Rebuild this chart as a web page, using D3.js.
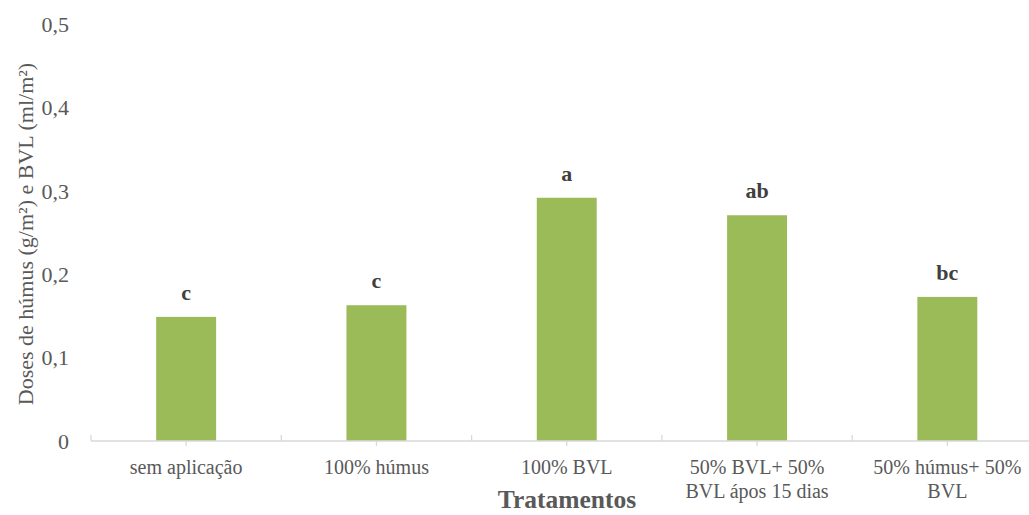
<!DOCTYPE html>
<html>
<head>
<meta charset="utf-8">
<script src="https://cdn.jsdelivr.net/npm/d3@7"></script>
<style>
  body{margin:0;background:#fff;}
  svg text{font-family:"Liberation Serif","Times New Roman",serif;}
</style>
</head>
<body>
<div id="chart"></div>
<script>
const categories=[["sem aplicação"],["100% húmus"],["100% BVL"],["50% BVL+ 50%","BVL ápos 15 dias"],["50% húmus+ 50%","BVL"]];
const values=[0.149,0.163,0.292,0.271,0.173];
const letters=["c","c","a","ab","bc"];
const yTicks=[0,0.1,0.2,0.3,0.4,0.5];

const w=1029, h=515;
const plotLeft=91, plotRight=1042.5, plotTop=24.5, plotBottom=441;
const serif="'Liberation Serif','Times New Roman',serif";

const svg=d3.select("#chart").append("svg").attr("width",w).attr("height",h);

const keys=categories.map(c=>c.join(" "));
const x=d3.scaleBand().domain(keys).range([plotLeft,plotRight]).paddingInner(0.685).paddingOuter(0.3425);
const y=d3.scaleLinear().domain([0,0.5]).range([plotBottom,plotTop]);

// bars
svg.selectAll("rect.bar")
    .data(values)
    .enter()
    .append("rect")
    .attr("class","bar")
    .attr("x",(d,i)=>x(keys[i]))
    .attr("y",d=>y(d))
    .attr("width",x.bandwidth())
    .attr("height",d=>y(0)-y(d))
    .attr("fill","#9bbb59");

// significance letters
svg.selectAll("text.letter")
    .data(values)
    .enter()
    .append("text")
    .attr("class","letter")
    .text((d,i)=>letters[i])
    .attr("x",(d,i)=>x(keys[i])+x.bandwidth()/2)
    .attr("y",d=>y(d)-17)
    .attr("text-anchor","middle")
    .style("font-family",serif)
    .style("font-size","22px")
    .style("font-weight","bold")
    .attr("fill","#404040");

// x axis
const gap=(x.step()-x.bandwidth())/2;
svg.append("line")
    .attr("x1",plotLeft).attr("x2",plotRight)
    .attr("y1",plotBottom).attr("y2",plotBottom)
    .attr("stroke","#d9d9d9").attr("stroke-width",1.3);
const bounds=keys.map(k=>x(k)-gap).concat([plotRight]);
svg.selectAll("line.btick")
    .data(bounds)
    .enter()
    .append("line")
    .attr("class","btick")
    .attr("x1",d=>d).attr("x2",d=>d)
    .attr("y1",plotBottom-6).attr("y2",plotBottom)
    .attr("stroke","#d9d9d9").attr("stroke-width",1.3);
const xAxis=svg.append("g")
    .attr("transform",`translate(0,${plotBottom})`)
    .call(d3.axisBottom(x).tickSize(5).tickFormat(""));
xAxis.select(".domain").remove();
xAxis.selectAll(".tick line").attr("stroke","#d9d9d9").attr("stroke-width",1.3);

const labels=svg.append("g");
categories.forEach((c,i)=>{
  const cx=x(keys[i])+x.bandwidth()/2;
  const t=labels.append("text")
      .attr("x",cx)
      .attr("y",474)
      .attr("text-anchor","middle")
      .style("font-family",serif)
      .style("font-size","20px")
      .attr("fill","#595959");
  c.forEach((line,j)=>{
    t.append("tspan").attr("x",cx).attr("dy",j?23.5:0).text(line);
  });
});

// y axis
const yAxis=svg.append("g")
    .attr("transform",`translate(${plotLeft},0)`)
    .call(d3.axisLeft(y).tickValues(yTicks).tickSize(0).tickPadding(22)
      .tickFormat(d=>d===0?"0":d3.format(".1f")(d).replace(".",",")));
yAxis.select(".domain").remove();
yAxis.selectAll(".tick text")
    .style("font-family",serif)
    .style("font-size","22px")
    .attr("fill","#595959");

// axis titles
svg.append("text")
    .text("Tratamentos")
    .attr("x",567)
    .attr("y",508)
    .attr("text-anchor","middle")
    .style("font-family",serif)
    .style("font-size","25.5px")
    .style("font-weight","bold")
    .attr("fill","#595959");

svg.append("text")
    .text("Doses de húmus (g/m²) e BVL (ml/m²)")
    .attr("transform","rotate(-90)")
    .attr("x",-234)
    .attr("y",33)
    .attr("text-anchor","middle")
    .style("font-family",serif)
    .style("font-size","22px")
    .attr("fill","#595959");
</script>
</body>
</html>
